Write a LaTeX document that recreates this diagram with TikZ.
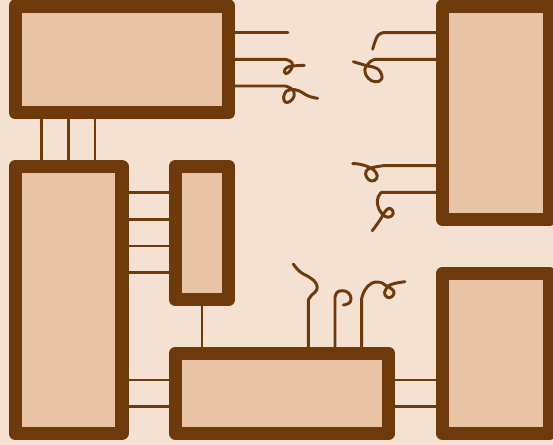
\documentclass[tikz,border=0pt]{standalone}
\usepackage{xcolor}
\usetikzlibrary{positioning}
\definecolor{paper}{HTML}{F4E1D2}
\definecolor{panel}{HTML}{E8C4A5}
\definecolor{bark}{HTML}{6E3A0C}
\tikzset{
  block/.style={draw=bark,fill=panel,line width=10pt,line join=round,inner sep=0pt},
  wire/.style={draw=bark,line width=2.2pt,line cap=round,line join=round},
  curl/.style={smooth,tension=0.8}
}
\begin{document}
\begin{tikzpicture}[x=0.75pt,y=-0.75pt]
\fill[paper] (0,0) rectangle (553,445);
\useasboundingbox (0,0) rectangle (553,445);
\node[block,minimum width=160pt,minimum height=80pt] (top) at (121.9,59.5) {};
\node[block,minimum width=80pt,minimum height=200pt] (left) at (68.5,300) {};
\node[block,minimum width=40pt,minimum height=100pt] (small) at (202,233) {};
\node[block,minimum width=160pt,minimum height=60pt] (bottom) at (282,393.3) {};
\node[block,minimum width=80pt,minimum height=160pt] (rtop) at (495.9,112.7) {};
\node[block,minimum width=80pt,minimum height=120pt] (rbot) at (495.9,353.5) {};
\foreach \x in {41.7,68.3,95} \draw[wire] (\x,0 |- top.south) -- (\x,0 |- left.north);
\foreach \y in {192.7,219.3,246,272.7} \draw[wire] (left.east |- 0,\y) -- (small.west |- 0,\y);
\foreach \y in {380,406.7} \draw[wire] (left.east |- 0,\y) -- (bottom.west |- 0,\y);
\foreach \y in {380,406.7} \draw[wire] (bottom.east |- 0,\y) -- (rbot.west |- 0,\y);
\draw[wire] (small.south) -- (bottom.north -| small.south);
\coordinate (ta) at (288,32.7);
\coordinate (tb) at (304.3,65.3);
\coordinate (tc) at (317.7,98.3);
\coordinate (ra) at (372.7,49.3);
\coordinate (rb) at (353.3,61.7);
\coordinate (rc) at (352.7,163.7);
\coordinate (rd) at (372.3,230.7);
\coordinate (ba) at (293.3,264);
\coordinate (bb) at (343.3,305);
\coordinate (bc) at (405,281.7);
\draw[wire] (top.east |- ta) -- (ta);
\draw[wire] (top.east |- 0,59.3) -- plot[curl] coordinates {(285,59.3) (290,61) (292.5,65) (290,71) (286,73.5) (284.5,71) (287,67.5) (293,66) (tb)};
\draw[wire] (top.east |- 0,86) -- plot[curl] coordinates {(285,86) (290.5,88) (294,92.5) (293,98.5) (287.5,102.5) (284,100) (284.5,94) (289,90) (298,90.5) (308.3,96) (tc)};
\draw[wire] (rtop.west |- 0,32.7) -- plot[curl] coordinates {(383.3,32.7) (378.3,35) (375,41.7) (ra)};
\draw[wire] (rtop.west |- 0,59.3) -- plot[curl] coordinates {(375,59.3) (370,61.7) (366,66.7) (365,71.7) (368.3,78.3) (375,81.7) (380.7,80) (381.7,75) (376.7,68.3) (366.7,65.7) (rb)};
\draw[wire] (rtop.west |- 0,165.7) -- plot[curl] coordinates {(383.3,165.7) (376.7,166.7) (370,168.3) (366,171.7) (366.7,177.3) (371.7,181) (376.7,178.3) (376,172.7) (370,167.7) (360,164.3) (rc)};
\draw[wire] (rtop.west |- 0,192.3) -- plot[curl] coordinates {(381.7,192.3) (378.3,196.7) (377.7,205) (381.7,213.3) (388.3,217.3) (393.3,213.3) (390,208.3) (385,211.7) (380,220) (rd)};
\draw[wire] (308.3,0 |- bottom.north) -- plot[curl] coordinates {(308.3,300) (311.7,295) (316.7,290) (316,283.3) (310,277.7) (300,271.7) (ba)};
\draw[wire] (335,0 |- bottom.north) -- plot[curl] coordinates {(335,298.3) (336.5,293) (342,290.7) (348.5,293) (351,299) (348.5,303.5) (bb)};
\draw[wire] (361.7,0 |- bottom.north) -- plot[curl] coordinates {(361.7,298.3) (365,290) (371.7,283.3) (380,282.3) (385,285) (391.7,289) (394,293.3) (390,297.7) (385,295) (386,289) (391.7,284.3) (bc)};
\end{tikzpicture}
\end{document}
